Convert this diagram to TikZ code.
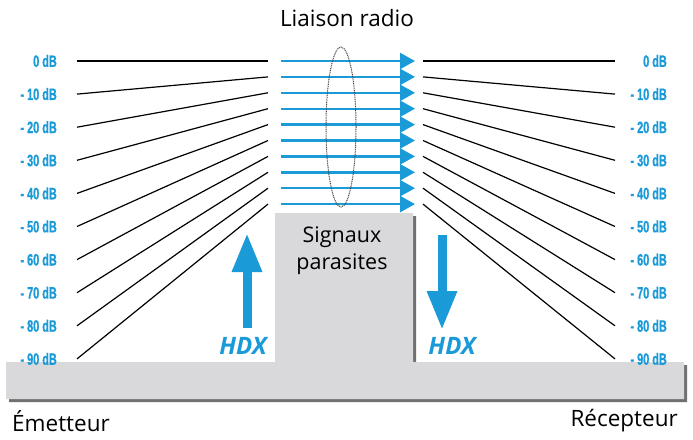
\documentclass[tikz,border=0pt]{standalone}
\usepackage{fontspec}
\setmainfont{Open Sans}
\newfontfamily\condfont[FakeStretch=0.66,FakeBold=0.8]{Liberation Sans Bold}
\usetikzlibrary{arrows.meta,shapes.geometric}
\definecolor{hdxblue}{HTML}{1B9AD8}
\definecolor{boxgray}{HTML}{D9D9DB}
\definecolor{shadowgray}{HTML}{707070}
\definecolor{ringgray}{HTML}{444444}
\tikzset{
  dblabel/.style={inner sep=0pt, text=hdxblue, font=\condfont\fontsize{16.5}{16.5}\selectfont},
  fanline/.style={line width=1.2pt, black},
  radioarrow/.style={line width=2.4pt, hdxblue, -{Triangle[length=15pt,width=16pt]}},
  bigarrow/.style={line width=9pt, hdxblue, -{Triangle[length=39pt,width=28pt]}},
  hdxtext/.style={inner sep=0pt, text=hdxblue, font=\bfseries\itshape\fontsize{24}{24}\selectfont},
  plaintext/.style={inner sep=0pt, font=\fontsize{22.5}{26}\selectfont},
}
\begin{document}
\begin{tikzpicture}[x=1pt,y=-1pt]
\useasboundingbox (0,0) rectangle (693,439);
% base with shadow
\fill[shadowgray] (9,365) -- (278,365) -- (278,216) -- (416,216) -- (416,365) -- (687,365) -- (687,402) -- (9,402) -- cycle;
\fill[boxgray] (6,362) -- (275,362) -- (275,213) -- (413,213) -- (413,362) -- (684,362) -- (684,399) -- (6,399) -- cycle;
\node[inner sep=0pt, font=\fontsize{21.5}{27}\selectfont, align=center] (parasites) at (342,251) {Signaux\\parasites};
% levels
\foreach \i/\t in {0/{0 dB},1/{- 10 dB},2/{- 20 dB},3/{- 30 dB},4/{- 40 dB},5/{- 50 dB},6/{- 60 dB},7/{- 70 dB},8/{- 80 dB},9/{- 90 dB}} {
  \pgfmathsetmacro\ly{61+33.1*\i}
  \pgfmathsetmacro\ay{61+15.9*\i}
  \coordinate (la\i) at (77,\ly);
  \coordinate (lb\i) at (268,\ay);
  \coordinate (ra\i) at (423,\ay);
  \coordinate (rb\i) at (615,\ly);
  \coordinate (as\i) at (281,\ay);
  \coordinate (ae\i) at (415,\ay);
  \draw[fanline] (la\i) -- (lb\i);
  \draw[fanline] (ra\i) -- (rb\i);
  \draw[radioarrow] (as\i) -- (ae\i);
  \node[dblabel, anchor=east] (L\i) at (57,\ly) {\t};
  \node[dblabel, anchor=east] (R\i) at (667,\ly) {\t};
}
% ring
\node[draw=ringgray, line width=1pt, dash pattern=on 1pt off 0.8pt, ellipse, minimum width=30pt, minimum height=160pt, inner sep=0pt] (ring) at (341,127) {};
% titles
\node[plaintext] (liaison) at (347,18) {Liaison radio};
\node[plaintext, anchor=west] (emetteur) at (12,421) {Émetteur};
\node[plaintext, anchor=east] (recepteur) at (678,421) {Récepteur};
% HDX arrows
\coordinate (upbot) at (247,328);
\coordinate (uptop) at (247,233);
\coordinate (dntop) at (442,235);
\coordinate (dnbot) at (442,330);
\draw[bigarrow] (upbot) -- (uptop);
\draw[bigarrow] (dntop) -- (dnbot);
\node[hdxtext] (hdxl) at (243,346) {HDX};
\node[hdxtext] (hdxr) at (452,346) {HDX};
\end{tikzpicture}
\end{document}
